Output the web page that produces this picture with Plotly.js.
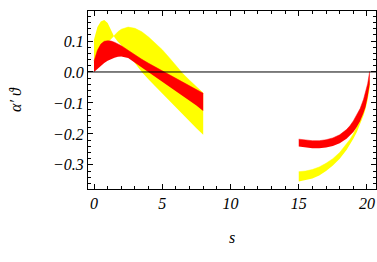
<!DOCTYPE html>
<html>
<head>
<meta charset="utf-8">
<script src="https://cdn.plot.ly/plotly-3.0.1.min.js"></script>
<style>html,body{margin:0;padding:0;background:#fff;}#chart{width:377px;height:262px;}</style>
</head>
<body>
<div id="chart"></div>
<script>
// Left branch (s from 0 to 8)
const sLeft = [0, 0.25, 0.5, 0.75, 1.0, 1.25, 1.5, 1.75, 2.0, 2.5, 3.0, 3.5, 4.0, 4.5, 5.0, 5.5, 6.0, 6.5, 7.0, 7.5, 8.0];
const yellowLeftA = [0.105, 0.145, 0.163, 0.168, 0.158, 0.136, 0.112, 0.098, 0.086, 0.057, 0.028, 0.0, -0.024, -0.047, -0.070, -0.093, -0.116, -0.137, -0.160, -0.182, -0.203];
const yellowLeftB = [0.030, 0.050, 0.068, 0.084, 0.096, 0.106, 0.118, 0.130, 0.138, 0.145, 0.141, 0.130, 0.113, 0.094, 0.072, 0.047, 0.020, -0.005, -0.027, -0.048, -0.068];
const redLeftC = [0.035, 0.070, 0.090, 0.099, 0.101, 0.100, 0.096, 0.091, 0.085, 0.070, 0.055, 0.041, 0.028, 0.016, 0.005, -0.008, -0.020, -0.032, -0.044, -0.057, -0.069];
const redLeftD = [0.0, 0.010, 0.020, 0.029, 0.036, 0.042, 0.046, 0.049, 0.050, 0.045, 0.030, 0.015, 0.0, -0.015, -0.031, -0.046, -0.062, -0.077, -0.092, -0.108, -0.126];

// Right branch (s from 15 to ~20.2)
const sRight = [15, 15.5, 16, 16.5, 17, 17.5, 18, 18.5, 18.75, 19, 19.25, 19.5, 19.75, 19.9, 20.05, 20.2];
const redRightUpper = [-0.217, -0.220, -0.222, -0.222, -0.219, -0.213, -0.203, -0.186, -0.174, -0.158, -0.139, -0.118, -0.088, -0.066, -0.038, 0.002];
const redRightLower = [-0.241, -0.244, -0.246, -0.246, -0.244, -0.239, -0.230, -0.216, -0.206, -0.194, -0.178, -0.158, -0.132, -0.112, -0.080, -0.040];
const yellowRightUpper = [-0.322, -0.320, -0.315, -0.307, -0.295, -0.280, -0.260, -0.234, -0.218, -0.200, -0.178, -0.152, -0.120, -0.097, -0.068, -0.025];
const yellowRightLower = [-0.354, -0.350, -0.344, -0.334, -0.320, -0.302, -0.280, -0.252, -0.235, -0.216, -0.195, -0.170, -0.140, -0.118, -0.090, -0.050];

const xTickVals = [0, 5, 10, 15, 20];
const yTickVals = [-0.3, -0.2, -0.1, 0.0, 0.1];
const xTitle = 's';
const yTitle = 'α′ ϑ';

const YEL = '#FFFF00', RED = '#FF0000';
function band(x, lo, hi, color) {
  return [
    {x: x, y: lo, type: 'scatter', mode: 'lines', line: {width: 0, color: color}, hoverinfo: 'skip', showlegend: false},
    {x: x, y: hi, type: 'scatter', mode: 'lines', line: {width: 0.5, color: color}, fill: 'tonexty', fillcolor: color, hoverinfo: 'skip', showlegend: false}
  ];
}
const data = [].concat(
  band(sLeft, yellowLeftA, yellowLeftB, YEL),
  band(sRight, yellowRightLower, yellowRightUpper, YEL),
  band(sLeft, redLeftD, redLeftC, RED),
  band(sRight, redRightLower, redRightUpper, RED)
);

const tickFont = {family: 'Liberation Serif, Times New Roman, serif', size: 16, style: 'italic', color: '#000'};
const layout = {
  width: 377, height: 262,
  margin: {l: 88, r: 1, t: 11, b: 73},
  paper_bgcolor: '#fff', plot_bgcolor: '#fff',
  showlegend: false,
  xaxis: {
    range: [-0.44, 20.66], tickvals: xTickVals, ticktext: xTickVals.map(String),
    ticks: 'inside', ticklen: 5, tickwidth: 1, tickcolor: '#000',
    minor: {dtick: 1, tick0: 0, ticks: 'inside', ticklen: 3, tickcolor: '#000', tickwidth: 1},
    showline: true, linecolor: '#000', linewidth: 1, mirror: 'allticks',
    showgrid: false, zeroline: false, layer: 'above traces',
    tickfont: tickFont,
    title: {text: xTitle, font: tickFont, standoff: 20}
  },
  yaxis: {
    range: [-0.378, 0.197], tickvals: yTickVals, ticktext: yTickVals.map(v => v.toFixed(1).replace('-', '\u2212')),
    ticks: 'inside', ticklen: 5, tickwidth: 1, tickcolor: '#000',
    minor: {dtick: 0.02, tick0: 0, ticks: 'inside', ticklen: 3, tickcolor: '#000', tickwidth: 1},
    showline: true, linecolor: '#000', linewidth: 1, mirror: 'allticks',
    showgrid: false, zeroline: false, layer: 'above traces',
    tickfont: tickFont,
    title: {text: yTitle, font: tickFont, standoff: 27}
  },
  shapes: [{type: 'line', xref: 'paper', x0: 0, x1: 1, yref: 'y', y0: 0, y1: 0, line: {color: '#000', width: 1}, layer: 'above'}]
};
Plotly.newPlot('chart', data, layout, {staticPlot: true, displayModeBar: false});
</script>
</body>
</html>
